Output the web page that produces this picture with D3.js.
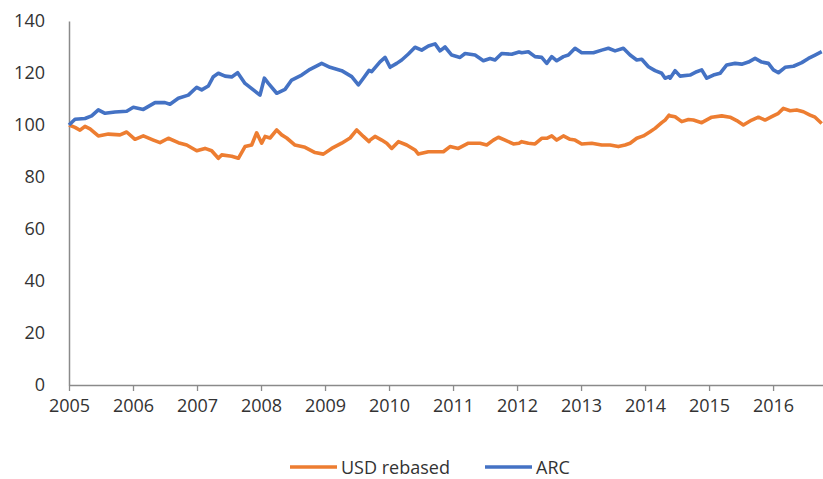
<!DOCTYPE html>
<html>
<head>
<meta charset="utf-8">
<script src="https://cdn.jsdelivr.net/npm/d3@7"></script>
<style>
  html, body { margin: 0; padding: 0; background: #fff; }
  svg { display: block; }
  text { font-family: "Open Sans", "Noto Sans", sans-serif; fill: #333; }
</style>
</head>
<body>
<svg id="chart" width="823" height="479"></svg>
<script>
// ---- Data (decimal years, index values) ----
const yearTicks = [2005, 2006, 2007, 2008, 2009, 2010, 2011, 2012, 2013, 2014, 2015, 2016];
const valueTicks = [0, 20, 40, 60, 80, 100, 120, 140];
const seriesNames = ["USD rebased", "ARC"];

const arcDates = [
  2005.000, 2005.094, 2005.250, 2005.354, 2005.458, 2005.563, 2005.719, 2005.901, 2006.005, 2006.161,
  2006.344, 2006.500, 2006.578, 2006.708, 2006.864, 2006.995, 2007.073, 2007.177, 2007.255, 2007.333,
  2007.438, 2007.542, 2007.635, 2007.750, 2007.880, 2007.984, 2008.052, 2008.115, 2008.245, 2008.375,
  2008.479, 2008.635, 2008.766, 2008.948, 2009.078, 2009.260, 2009.417, 2009.521, 2009.599, 2009.688,
  2009.729, 2009.859, 2009.938, 2010.016, 2010.120, 2010.198, 2010.302, 2010.406, 2010.510, 2010.615,
  2010.719, 2010.797, 2010.875, 2010.979, 2011.109, 2011.188, 2011.344, 2011.474, 2011.578, 2011.656,
  2011.760, 2011.917, 2012.031, 2012.073, 2012.177, 2012.281, 2012.385, 2012.464, 2012.542, 2012.620,
  2012.724, 2012.802, 2012.906, 2013.010, 2013.193, 2013.323, 2013.427, 2013.531, 2013.661, 2013.766,
  2013.870, 2013.948, 2014.052, 2014.156, 2014.260, 2014.313, 2014.375, 2014.391, 2014.469, 2014.547,
  2014.703, 2014.807, 2014.885, 2014.964, 2015.068, 2015.172, 2015.276, 2015.406, 2015.510, 2015.615,
  2015.719, 2015.823, 2015.927, 2016.005, 2016.083, 2016.188, 2016.318, 2016.448, 2016.552, 2016.656,
  2016.760
];
const arcValues = [
  100.0, 102.2, 102.5, 103.5, 105.8, 104.5, 105.0, 105.3, 106.8, 106.0,
  108.6, 108.6, 108.0, 110.3, 111.5, 114.5, 113.5, 115.0, 118.6, 119.9,
  118.8, 118.5, 120.1, 116.0, 113.5, 111.5, 118.0, 116.0, 112.2, 113.7,
  117.3, 119.2, 121.4, 123.7, 122.2, 120.9, 118.6, 115.4, 118.0, 121.0,
  120.5, 124.3, 126.0, 122.2, 123.7, 125.0, 127.3, 129.9, 128.8, 130.4,
  131.2, 128.5, 130.0, 126.9, 126.0, 127.5, 126.9, 124.7, 125.6, 125.0,
  127.5, 127.2, 128.1, 127.8, 128.2, 126.3, 126.0, 123.7, 126.3, 124.7,
  126.3, 126.9, 129.5, 127.8, 127.8, 128.8, 129.5, 128.5, 129.5, 126.9,
  125.0, 125.3, 122.4, 120.9, 119.9, 118.0, 118.6, 118.0, 120.9, 118.8,
  119.2, 120.5, 121.2, 118.0, 119.2, 119.9, 123.1, 123.7, 123.4, 124.2,
  125.6, 124.2, 123.7, 121.2, 120.1, 122.2, 122.6, 124.0, 125.6, 126.9,
  128.2
];

const usdDates = [
  2005.000, 2005.094, 2005.172, 2005.250, 2005.328, 2005.458, 2005.615, 2005.797, 2005.901, 2006.031,
  2006.161, 2006.318, 2006.422, 2006.552, 2006.708, 2006.839, 2006.995, 2007.125, 2007.229, 2007.333,
  2007.385, 2007.542, 2007.646, 2007.750, 2007.854, 2007.932, 2008.010, 2008.063, 2008.141, 2008.245,
  2008.323, 2008.401, 2008.531, 2008.688, 2008.844, 2008.974, 2009.104, 2009.260, 2009.391, 2009.495,
  2009.599, 2009.688, 2009.703, 2009.781, 2009.885, 2009.964, 2010.042, 2010.146, 2010.276, 2010.406,
  2010.458, 2010.615, 2010.745, 2010.849, 2010.953, 2011.083, 2011.240, 2011.422, 2011.526, 2011.630,
  2011.708, 2011.813, 2011.943, 2012.031, 2012.073, 2012.177, 2012.281, 2012.385, 2012.464, 2012.542,
  2012.620, 2012.724, 2012.828, 2012.906, 2013.010, 2013.167, 2013.323, 2013.453, 2013.583, 2013.688,
  2013.766, 2013.870, 2013.974, 2014.078, 2014.156, 2014.260, 2014.313, 2014.375, 2014.391, 2014.469,
  2014.573, 2014.677, 2014.755, 2014.885, 2015.042, 2015.198, 2015.328, 2015.432, 2015.536, 2015.667,
  2015.771, 2015.875, 2015.979, 2016.083, 2016.161, 2016.266, 2016.370, 2016.474, 2016.578, 2016.656,
  2016.760
];
const usdValues = [
  100.0, 99.1, 98.0, 99.5, 98.5, 95.8, 96.5, 96.2, 97.3, 94.5,
  95.8, 94.2, 93.2, 94.9, 93.2, 92.3, 90.1, 91.0, 90.1, 87.2,
  88.5, 88.0, 87.2, 91.7, 92.3, 97.0, 93.0, 95.6, 95.0, 98.1,
  96.2, 95.0, 92.3, 91.4, 89.4, 88.8, 91.0, 93.0, 95.0, 98.1,
  95.6, 93.6, 94.2, 95.6, 94.2, 93.0, 91.0, 93.6, 92.3, 90.4,
  88.8, 89.7, 89.7, 89.7, 91.7, 91.0, 93.0, 93.0, 92.3, 94.2,
  95.3, 94.2, 92.7, 93.0, 93.6, 93.0, 92.7, 94.9, 94.9, 95.8,
  94.2, 95.8, 94.5, 94.2, 92.7, 93.0, 92.3, 92.3, 91.7, 92.3,
  93.0, 94.9, 95.8, 97.4, 98.7, 100.9, 101.9, 103.8, 103.5, 103.2,
  101.3, 102.1, 101.9, 100.9, 103.0, 103.5, 103.0, 101.7, 100.0, 101.9,
  103.0, 101.9, 103.2, 104.5, 106.4, 105.5, 105.8, 105.1, 103.8, 103.0,
  100.6
];

// ---- Layout ----
const svg = d3.select("#chart");
const plot = { left: 69, right: 823, top: 21, bottom: 385 };
const fontSize = 18;

const x = d3.scaleLinear().domain([2005, 2016.78]).range([plot.left, plot.right]);
const y = d3.scaleLinear().domain([0, 140]).range([plot.bottom, plot.top]);

// X axis
const xAxis = d3.axisBottom(x).tickValues(yearTicks).tickFormat(d3.format("d"))
  .tickSizeInner(6).tickSizeOuter(0).tickPadding(8);
const gx = svg.append("g").attr("transform", `translate(0,${plot.bottom})`).call(xAxis);
gx.select(".domain").attr("stroke", "#8a8a8a").attr("stroke-width", 1.5)
  .attr("d", `M${plot.left},0.5H${plot.right}`);
gx.selectAll(".tick line").attr("stroke", "#8a8a8a").attr("stroke-width", 1.3);
gx.selectAll(".tick text").attr("font-size", fontSize).attr("fill", "#333")
  .style("font-family", '"Open Sans", sans-serif');

// Y axis
const yAxis = d3.axisLeft(y).tickValues(valueTicks).tickSize(0).tickPadding(24);
const gy = svg.append("g").attr("transform", `translate(${plot.left},0)`).call(yAxis);
gy.select(".domain").attr("stroke", "#8a8a8a").attr("stroke-width", 1.5);
gy.selectAll(".tick text").attr("font-size", fontSize).attr("fill", "#333")
  .style("font-family", '"Open Sans", sans-serif');

// Lines
const line = d3.line().x(d => x(d[0])).y(d => y(d[1]));
const usdData = usdDates.map((d, i) => [d, usdValues[i]]);
const arcData = arcDates.map((d, i) => [d, arcValues[i]]);
const colors = { "USD rebased": "#ED7D31", "ARC": "#4472C4" };

svg.append("path").datum(usdData).attr("fill", "none")
  .attr("stroke", colors["USD rebased"]).attr("stroke-width", 3.6)
  .attr("stroke-linejoin", "round").attr("d", line);
svg.append("path").datum(arcData).attr("fill", "none")
  .attr("stroke", colors["ARC"]).attr("stroke-width", 3.6)
  .attr("stroke-linejoin", "round").attr("d", line);

// Legend
const legendItems = [
  { name: seriesNames[0], x0: 290 },
  { name: seriesNames[1], x0: 485 }
];
const lg = svg.append("g");
legendItems.forEach(it => {
  lg.append("line").attr("x1", it.x0).attr("x2", it.x0 + 47)
    .attr("y1", 467).attr("y2", 467)
    .attr("stroke", colors[it.name]).attr("stroke-width", 3.6);
  lg.append("text").attr("x", it.x0 + 51).attr("y", 473.5)
    .attr("font-size", fontSize).attr("fill", "#333").text(it.name);
});
</script>
</body>
</html>
